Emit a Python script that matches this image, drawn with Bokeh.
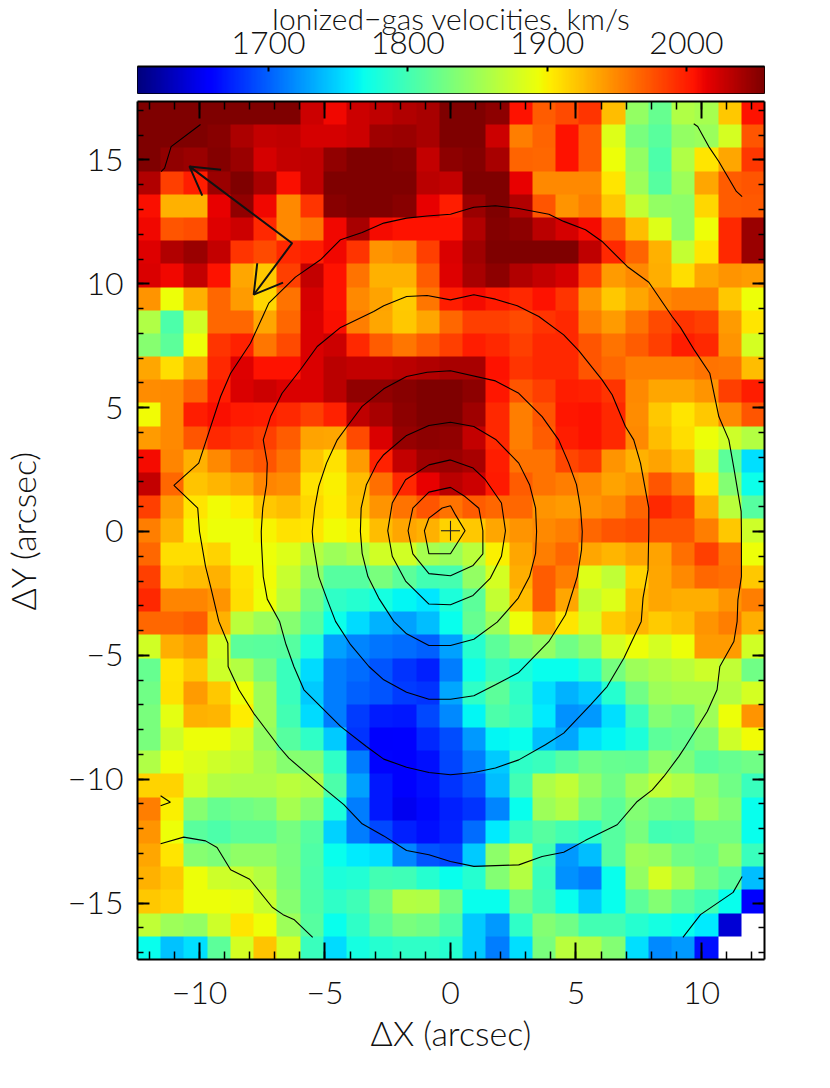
from bokeh.plotting import figure
from bokeh.layouts import column
from bokeh.embed import file_html
from bokeh.resources import INLINE
from bokeh.models import LinearAxis, LinearColorMapper, SingleIntervalTicker, FixedTicker
import numpy as np

X_RANGE = (-12.47, 12.51)
Y_RANGE = (-17.28, 17.36)
V_RANGE = (1606, 2056)
BAR_TICKS = [1700, 1800, 1900, 2000]
TITLE = "Ionized\u2212gas velocities, km/s"
XLABEL = "\u0394X (arcsec)"
YLABEL = "\u0394Y (arcsec)"
FONT = "Lato Light"

# velocity map, km/s; first row = top of the picture, None = no data
r00 = [2056,2056,2056,2056,2056,2056,2056,2025,2012,2025,2030,2035,2040,2056,2056,2050,2006,1970,1980,1990,1925,1845,1820,1860,1855,1920,2006]
r01 = [2056,2056,2056,2052,2038,2028,2030,2022,2022,2025,2042,2045,2040,2056,2056,2025,1955,1968,2006,1970,1885,1830,1812,1845,1848,1880,1975]
r02 = [2056,2048,2045,2054,2044,2022,2028,2030,2048,2056,2056,2054,2028,2050,2054,2040,1968,1965,2006,1970,1893,1845,1805,1860,1905,1935,1988]
r03 = [2035,1985,2000,2045,2056,2040,2008,2030,2055,2056,2056,2056,2032,2028,2056,2056,2015,1950,1950,1950,1905,1850,1810,1850,1935,1970,1975]
r04 = [2008,1930,1930,2015,2048,2012,1950,1990,2052,2056,2056,2052,2015,2000,2045,2055,2035,1975,1945,1955,1920,1870,1845,1840,1912,1970,1972]
r05 = [2012,1975,1978,2018,2025,1995,1950,1958,2012,2040,2010,2006,2006,2006,2035,2054,2050,2032,2022,2010,1968,1925,1885,1840,1893,1995,2045]
r06 = [2018,2035,2044,2028,1990,1980,1995,2000,2012,1990,1945,1950,1985,2020,2042,2056,2056,2056,2056,2030,1995,1968,1930,1870,1905,1995,2045]
r07 = [2020,2012,2028,2006,1935,1920,1985,2028,2006,1960,1930,1930,1970,2018,2040,2050,2035,2028,2022,1985,1940,1950,1932,1910,1935,1945,1940]
r08 = [1945,1893,1930,1965,1940,1912,1960,2022,2006,1950,1938,1918,1958,2000,2010,2002,1995,2006,1990,1945,1920,1935,1950,1955,1955,1920,1893]
r09 = [1860,1805,1878,1965,1965,1935,1965,2020,2008,1955,1935,1920,1935,1965,1985,1985,1980,1990,1995,1955,1940,1960,1980,1990,1985,1940,1905]
r10 = [1838,1815,1893,1990,1998,1958,1980,2020,2025,1995,1970,1958,1970,1985,2000,1995,1985,1995,1995,1975,1960,1970,1985,2000,1995,1945,1880]
r11 = [1935,1910,1935,1995,2018,2006,2006,2020,2032,2028,2028,2032,2035,2040,2040,2006,1990,1995,1995,1975,1965,1955,1955,1955,1960,1958,1925]
r12 = [1948,1950,1968,2000,2020,2025,2020,2020,2032,2048,2048,2052,2056,2056,2050,2005,1975,1985,2000,1998,1990,1950,1935,1935,1945,1985,2000]
r13 = [1896,1950,2000,2008,2002,2000,1995,1985,1998,2030,2040,2050,2056,2056,2042,1995,1955,1975,2004,2006,1995,1948,1920,1905,1920,1950,1975]
r14 = [1940,1950,1975,1995,1990,1985,1970,1938,1935,1980,2020,2046,2050,2048,2028,1995,1955,1970,2000,2006,1995,1950,1925,1910,1893,1875,1862]
r15 = [2010,1952,1930,1950,1968,1975,1960,1922,1908,1940,1998,2028,2042,2045,2040,2000,1960,1960,1982,1988,1945,1930,1938,1925,1880,1815,1755]
r16 = [2028,1965,1922,1928,1935,1952,1948,1908,1900,1925,1962,1995,2015,2032,2025,2002,1970,1960,1955,1950,1938,1945,1975,1955,1905,1835,1770]
r17 = [1985,1940,1905,1895,1902,1920,1925,1912,1902,1922,1945,1960,1975,1960,1970,1965,1965,1945,1940,1945,1950,1968,1995,1985,1930,1865,1810]
r18 = [1955,1930,1898,1893,1893,1898,1908,1905,1895,1900,1925,1935,1930,1915,1920,1935,1945,1950,1955,1965,1975,1978,1975,1975,1955,1920,1875]
r19 = [1965,1910,1910,1915,1893,1893,1885,1862,1850,1858,1878,1878,1855,1848,1865,1900,1935,1955,1965,1935,1928,1938,1938,1962,1985,1958,1893]
r20 = [1985,1920,1925,1930,1908,1895,1872,1840,1810,1810,1830,1815,1800,1802,1845,1880,1932,1970,1955,1885,1868,1915,1935,1950,1965,1962,1920]
r21 = [1995,1952,1952,1945,1910,1893,1865,1825,1790,1785,1775,1765,1758,1780,1815,1870,1925,1970,1935,1870,1885,1925,1935,1932,1932,1945,1955]
r22 = [1965,1965,1970,1930,1865,1850,1838,1810,1770,1752,1735,1728,1740,1768,1820,1850,1893,1930,1905,1880,1918,1928,1918,1925,1945,1955,1932]
r23 = [1878,1932,1940,1880,1815,1812,1810,1780,1728,1715,1708,1705,1700,1728,1785,1815,1835,1845,1825,1840,1880,1893,1880,1893,1940,1940,1878]
r24 = [1820,1905,1920,1875,1862,1830,1795,1752,1712,1705,1695,1680,1672,1712,1770,1795,1780,1768,1768,1785,1828,1850,1858,1865,1875,1868,1825]
r25 = [1825,1908,1940,1920,1893,1850,1795,1745,1712,1700,1695,1685,1680,1730,1790,1815,1790,1755,1735,1745,1785,1825,1850,1855,1855,1862,1880]
r26 = [1830,1888,1930,1928,1902,1850,1800,1752,1712,1685,1670,1668,1690,1718,1765,1805,1795,1760,1722,1725,1755,1795,1835,1825,1850,1893,1945]
r27 = [1830,1875,1893,1893,1880,1845,1810,1790,1745,1680,1656,1658,1675,1692,1725,1765,1768,1740,1730,1755,1765,1780,1815,1820,1832,1875,1895]
r28 = [1860,1893,1885,1875,1870,1855,1838,1835,1790,1712,1660,1656,1665,1688,1712,1745,1790,1795,1810,1825,1820,1818,1840,1832,1812,1820,1825]
r29 = [1915,1915,1880,1862,1858,1858,1865,1860,1805,1728,1668,1656,1665,1680,1695,1740,1800,1858,1868,1845,1825,1852,1868,1860,1845,1825,1795]
r30 = [1955,1900,1838,1820,1825,1830,1855,1838,1780,1712,1668,1650,1662,1672,1680,1715,1768,1850,1860,1830,1815,1835,1825,1820,1850,1835,1768]
r31 = [1945,1893,1812,1805,1815,1815,1828,1810,1750,1712,1690,1672,1665,1673,1705,1760,1795,1810,1800,1790,1810,1830,1800,1802,1825,1825,1768]
r32 = [1935,1905,1838,1832,1842,1842,1830,1808,1768,1760,1755,1715,1695,1690,1745,1840,1868,1800,1725,1740,1810,1850,1845,1825,1820,1840,1795]
r33 = [1930,1920,1893,1875,1872,1862,1832,1805,1780,1782,1800,1798,1785,1768,1785,1835,1862,1795,1722,1712,1768,1845,1880,1855,1828,1812,1740]
r34 = [1920,1915,1893,1893,1890,1872,1838,1808,1790,1798,1825,1862,1860,1825,1768,1768,1825,1800,1768,1745,1768,1815,1835,1815,1800,1768,1656]
r35 = [1868,1850,1845,1875,1905,1893,1850,1810,1768,1790,1815,1830,1825,1805,1745,1725,1790,1835,1825,1800,1800,1785,1775,1768,1760,1640,None]
r36 = [1768,1742,1755,1815,1880,1922,1880,1795,1752,1775,1785,1790,1790,1785,1745,1712,1755,1830,1865,1860,1835,1755,1718,1725,1665,None,None]
velocity_rows = [r00,r01,r02,r03,r04,r05,r06,r07,r08,r09,r10,r11,r12,r13,r14,r15,r16,r17,r18,r19,r20,r21,r22,r23,r24,r25,r26,r27,r28,r29,r30,r31,r32,r33,r34,r35,r36]

# isophotes, arcsec
c1 = [(0,1.04),(-0.33,0.95),(-0.86,0.54),(-1.04,0.03),(-0.86,-0.9),(0,-0.9),(0.58,0.03),(0.2,0.67),(0,1.04)]
c2 = [(0,1.78),(-0.86,1.59),(-1.5,0.94),(-1.69,0.03),(-1.5,-0.9),(-0.86,-1.7),(0,-1.79),(0.9,-1.37),(1.29,-0.9),(1.29,0.03),(1.13,0.94),(0.58,1.41),(0,1.78)]
c3 = [(0,2.89),(-0.86,2.69),(-1.79,2.09),(-2.32,1.15),(-2.5,0.03),(-2.32,-1.0),(-1.79,-2.0),(-0.86,-2.93),(0,-2.96),(0.9,-2.58),(1.59,-1.88),(2.03,-1.0),(2.19,0.03),(2.03,1.15),(1.39,2.09),(0.9,2.56),(0,2.89)]
c4 = [(-3.59,0),(-3.56,0.94),(-3.35,1.89),(-2.92,2.76),(-2.66,3.1),(-1.75,3.88),(-0.86,4.28),(0,4.41),(0.93,4.24),(1.82,3.7),(2.72,2.76),(3.15,1.89),(3.39,0.94),(3.43,0),(3.39,-0.88),(3.15,-1.82),(2.7,-2.69),(1.86,-3.66),(0.93,-4.35),(0,-4.6),(-0.86,-4.6),(-1.75,-4.13),(-2.26,-3.63),(-2.86,-2.69),(-3.29,-1.82),(-3.52,-0.88),(-3.59,0)]
c5 = [(-5.51,0),(-5.41,0.94),(-5.25,1.82),(-4.94,2.76),(-4.51,3.7),(-4.12,4.24),(-3.52,5.05),(-2.66,5.76),(-1.75,6.26),(-0.93,6.43),(0,6.49),(1.79,6.08),(2.72,5.58),(3.65,4.64),(4.31,3.7),(4.71,2.76),(5.02,1.89),(5.18,0.94),(5.25,0),(5.22,-0.74),(5.05,-1.82),(4.58,-3.36),(3.92,-4.44),(2.72,-5.69),(1.79,-6.19),(0.93,-6.63),(0,-6.77),(-0.86,-6.77),(-1.75,-6.49),(-2.66,-5.99),(-3.25,-5.45),(-3.98,-4.57),(-4.58,-3.63),(-4.91,-2.76),(-5.25,-1.82),(-5.47,-0.47),(-5.51,0)]
c6 = [(-7.54,0),(-7.48,0.94),(-7.33,1.89),(-7.3,2.76),(-7.46,3.7),(-7.17,4.64),(-6.71,5.58),(-5.98,6.53),(-5.31,7.47),(-4.38,8.24),(-3.06,8.88),(-2.66,9.11),(-1.75,9.49),(-0.93,9.53),(0,9.35),(0.93,9.56),(1.79,9.38),(2.66,9.11),(3.52,8.68),(4.51,7.94),(5.11,7.3),(6.04,6.12),(6.44,5.52),(6.97,4.24),(7.3,3.7),(7.57,2.76),(7.9,0.94),(7.9,0),(7.87,-1.55),(7.67,-2.69),(7.6,-3.63),(6.91,-5.11),(6.24,-6.26),(5.58,-7.0),(4.51,-8.14),(3.78,-8.61),(2.72,-9.22),(1.79,-9.55),(0.93,-9.73),(0,-9.82),(-0.86,-9.73),(-1.75,-9.52),(-2.66,-9.19),(-3.35,-8.68),(-4.38,-7.87),(-5.11,-7.13),(-5.84,-6.39),(-6.24,-5.45),(-6.57,-4.51),(-6.81,-3.63),(-7.3,-2.73),(-7.46,-1.82),(-7.53,-0.47),(-7.54,0)]
c7 = [(-10.0,0),(-10.07,0.94),(-11.02,1.86),(-10.03,2.76),(-9.16,5.45),(-8.76,6.39),(-7.97,7.6),(-7.48,8.68),(-7.24,9.22),(-6.18,10.27),(-5.18,10.97),(-4.38,11.78),(-3.52,12.07),(-2.66,12.45),(-1.75,12.65),(-0.93,12.74),(0,12.81),(0.93,13.09),(1.79,13.15),(2.66,13.05),(3.92,12.81),(4.51,12.52),(5.38,12.18),(6.04,11.71),(7.04,10.7),(7.9,10.06),(8.83,8.68),(9.16,8.24),(9.73,7.3),(10.33,6.39),(10.69,4.64),(11.09,3.7),(11.29,2.56),(11.58,0.81),(11.59,0),(11.59,-1.82),(11.45,-2.76),(11.42,-3.63),(11.29,-4.44),(10.73,-5.45),(10.62,-6.39),(10.23,-7.27),(9.36,-8.68),(9.1,-9.08),(8.5,-9.89),(8.04,-10.43),(7.44,-10.9),(6.64,-11.84),(5.38,-12.47),(4.51,-12.95),(3.65,-13.12),(2.72,-13.46),(0.93,-13.52),(0,-13.32),(-0.86,-13.05),(-1.75,-12.88),(-2.66,-12.29),(-3.52,-11.8),(-4.25,-11.03),(-5.05,-10.36),(-6.44,-9.15),(-6.84,-8.68),(-7.84,-7.34),(-8.43,-6.39),(-8.86,-5.45),(-8.87,-4.51),(-9.23,-3.63),(-9.56,-2.22),(-9.76,-1.41),(-10.0,0)]
c_top_left = [(-9.96,16.43),(-11.13,15.54),(-11.39,14.67),(-11.53,14.53)]
c_top_right = [(9.69,16.46),(9.85,16.35),(10.29,15.54),(10.69,14.94),(11.39,13.73),(11.62,13.52)]
c_left = [(-11.55,-10.67),(-11.16,-10.93),(-11.55,-11.07)]
c_low_left = [(-11.55,-12.61),(-10.63,-12.34),(-9.76,-12.49),(-9.3,-12.76),(-8.76,-13.66),(-8.0,-14.04),(-7.1,-15.17),(-6.67,-15.47),(-6.22,-15.68),(-5.49,-16.39)]
c_low_right = [(9.26,-16.39),(9.96,-15.47),(11.26,-14.57),(11.62,-13.93)]
contours = [c1,c2,c3,c4,c5,c6,c7,c_top_left,c_top_right,c_left,c_low_left,c_low_right]

# orientation arrows and centre cross, arcsec
arrow_shaft = [(-10.4,14.74),(-6.31,11.64),(-7.84,9.56)]
arrow_head_1 = [(-9.14,14.6),(-10.4,14.74),(-9.89,13.56)]
arrow_head_2 = [(-7.7,10.83),(-7.84,9.56),(-6.67,10.05)]
cross_h = [(-0.38,0.03),(0.38,0.03)]
cross_v = [(0,-0.37),(0,0.43)]


def jet():
    t = np.linspace(0, 1, 256)
    r = np.interp(t, [0, .35, .66, .89, 1], [0, 0, 1, 1, .5])
    g = np.interp(t, [0, .115, .36, .64, .91, 1], [0, 0, 1, 1, 0, 0])
    b = np.interp(t, [0, .11, .34, .65, 1], [.5, 1, 1, 0, 0])
    return ["#%02x%02x%02x" % (int(a * 255), int(c * 255), int(d * 255)) for a, c, d in zip(r, g, b)]


mapper = LinearColorMapper(palette=jet(), low=V_RANGE[0], high=V_RANGE[1], nan_color="#ffffff")


def style_text(ax):
    ax.major_label_text_font = FONT
    ax.major_label_text_font_size = "32px"
    ax.major_label_text_color = "#111111"
    ax.axis_label_text_font = FONT
    ax.axis_label_text_font_size = "34px"
    ax.axis_label_text_font_style = "normal"
    ax.axis_label_text_color = "#111111"


def style_ticks(ax, major, minor, ticker):
    ax.ticker = ticker
    ax.axis_line_color = "#000000"
    ax.axis_line_width = 2
    ax.major_tick_in = major
    ax.major_tick_out = 0
    ax.minor_tick_in = minor
    ax.minor_tick_out = 0
    ax.major_tick_line_width = 2
    ax.minor_tick_line_width = 1.5
    ax.major_tick_line_color = "#000000"
    ax.minor_tick_line_color = "#000000"


# colour bar
bar = figure(frame_width=627, frame_height=27, x_range=V_RANGE, y_range=(0, 1),
             output_backend="svg", toolbar_location=None, x_axis_location="above",
             min_border_left=145, min_border_right=24, min_border_top=40, min_border_bottom=5,
             background_fill_color="#ffffff", outline_line_color="#000000", outline_line_width=1)
bar.image(image=[np.linspace(V_RANGE[0], V_RANGE[1], 627).reshape(1, -1)], x=V_RANGE[0], y=0,
          dw=V_RANGE[1] - V_RANGE[0], dh=1, color_mapper=mapper)
bar.yaxis.visible = False
bar.grid.visible = False
xa = bar.xaxis[0]
style_text(xa)
xa.axis_label_text_font_size = "30px"
style_ticks(xa, 5, 0, FixedTicker(ticks=BAR_TICKS))
xa.axis_label = TITLE
xa.axis_label_standoff = -7
xa.major_label_standoff = 13

# map
p = figure(frame_width=627, frame_height=858, x_range=X_RANGE, y_range=Y_RANGE,
           output_backend="svg", toolbar_location=None,
           min_border_left=145, min_border_right=24, min_border_top=3, min_border_bottom=90,
           background_fill_color="#ffffff", outline_line_color=None)
img = np.array(velocity_rows, dtype=float)[::-1]
p.image(image=[img], x=X_RANGE[0], y=Y_RANGE[0], dw=X_RANGE[1] - X_RANGE[0], dh=Y_RANGE[1] - Y_RANGE[0],
        color_mapper=mapper)
p.grid.visible = False

for c in contours:
    p.line([q[0] for q in c], [q[1] for q in c], line_color="#000000", line_width=1.1)
for c in (arrow_shaft, arrow_head_1, arrow_head_2):
    p.line([q[0] for q in c], [q[1] for q in c], line_color="#111111", line_width=2)
for c in (cross_h, cross_v):
    p.line([q[0] for q in c], [q[1] for q in c], line_color="#222222", line_width=1.1)

tick = lambda: SingleIntervalTicker(interval=5, num_minor_ticks=5)
bx, ly = p.xaxis[0], p.yaxis[0]
for ax in (bx, ly):
    style_text(ax)
bx.axis_label = XLABEL
ly.axis_label = YLABEL
bx.major_label_standoff = 22
bx.axis_label_standoff = 5
ly.major_label_standoff = 14
ly.axis_label_standoff = 22
ly.major_label_orientation = "horizontal"
style_ticks(bx, 17, 8, tick())
style_ticks(ly, 12, 6, tick())

tx = LinearAxis()
ry = LinearAxis()
style_ticks(tx, 17, 8, tick())
style_ticks(ry, 12, 6, tick())
for ax in (tx, ry):
    ax.major_label_text_font_size = "0px"
    ax.major_label_text_color = None
    ax.major_label_standoff = 0
p.add_layout(tx, "above")
p.add_layout(ry, "right")

page = column(bar, p, spacing=0, margin=(-4, 0, 0, -8))
open("out.html", "w").write(file_html(page, INLINE))
